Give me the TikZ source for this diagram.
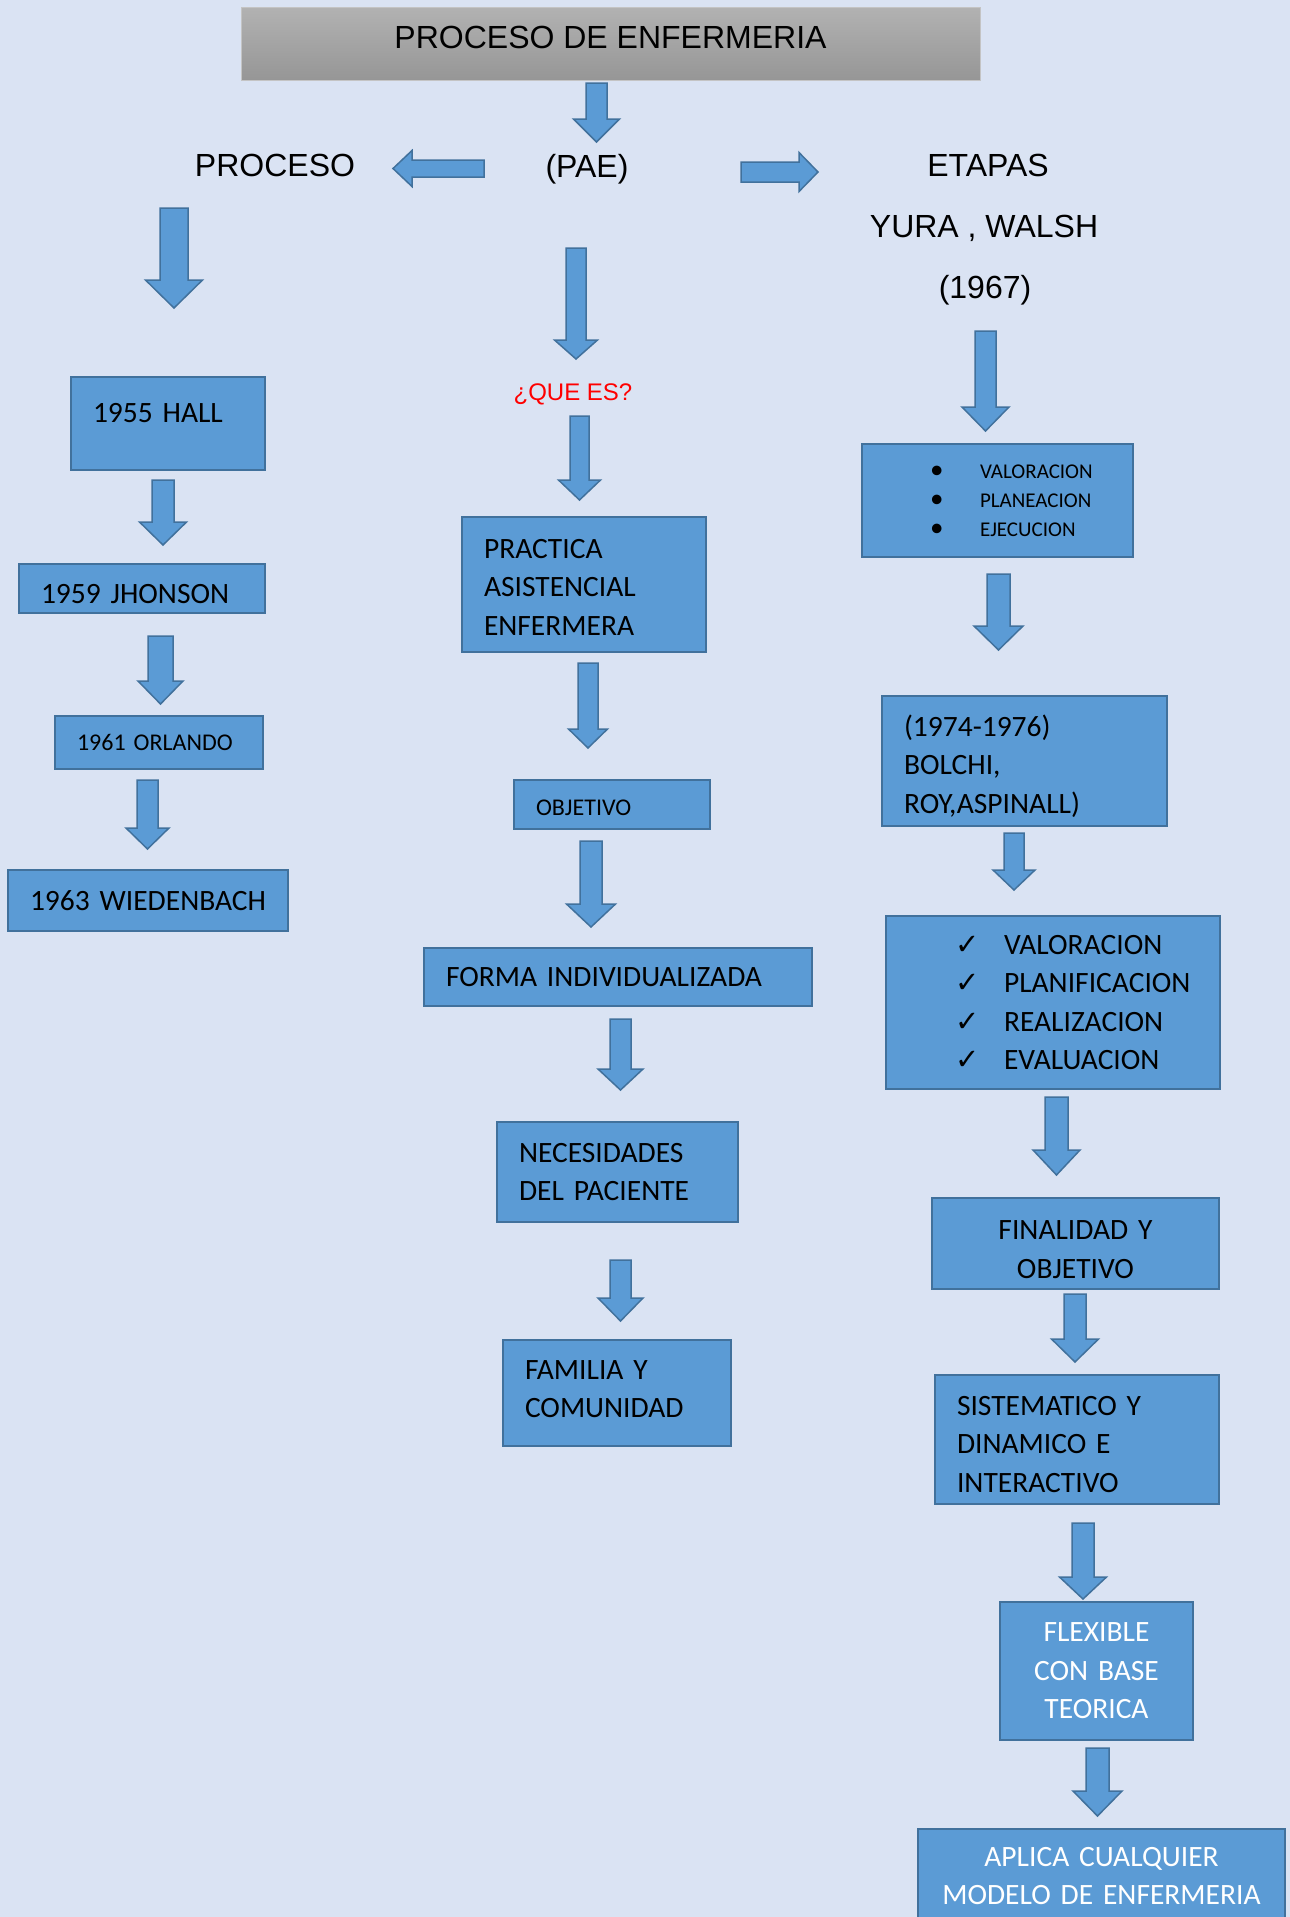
\documentclass[tikz,border=0pt]{standalone}
\usepackage{fontspec}
\setmainfont{Carlito}
\newfontfamily\arialfont{Liberation Sans}
\newfontfamily\symfont{DejaVu Sans}
\usepackage{tikz}

\definecolor{bgblue}{HTML}{DAE3F3}
\definecolor{boxblue}{HTML}{5B9BD5}
\definecolor{boxline}{HTML}{41719C}
\definecolor{titletop}{HTML}{B2B2B2}
\definecolor{titlebot}{HTML}{969696}
\definecolor{titleline}{HTML}{C4C4C4}
\definecolor{quered}{HTML}{FF0000}

% block arrows: x, y top, y head, y tip, half shaft, half head
\newcommand{\vblock}[6]{\draw[blkarrow] (#1-#5,#2) -- (#1+#5,#2) -- (#1+#5,#3) -- (#1+#6,#3) -- (#1,#4) -- (#1-#6,#3) -- (#1-#5,#3) -- cycle;}
% y, x tail, x head, x tip, half shaft, half head
\newcommand{\hblock}[6]{\draw[blkarrow] (#2,#1-#5) -- (#3,#1-#5) -- (#3,#1-#6) -- (#4,#1) -- (#3,#1+#6) -- (#3,#1+#5) -- (#2,#1+#5) -- cycle;}
\newcommand{\chk}{{\symfont\fontsize{29}{29}\selectfont ✓}}
\newcommand{\blt}{{\fontsize{27}{27}\selectfont •}}

\begin{document}
\begin{tikzpicture}[x=1pt, y=-1pt,
    box/.style={draw=boxline, fill=boxblue, line width=2pt,
        inner xsep=22pt, inner ysep=0pt, align=left,
        font=\fontsize{29.5}{38.5}\selectfont},
    smallbox/.style={box, font=\fontsize{24}{30}\selectfont},
    whitebox/.style={box, align=center, text=white},
    blkarrow/.style={draw=boxline, fill=boxblue, line width=1.5pt, line join=miter},
    bigtext/.style={inner sep=0pt, anchor=base,
        font=\arialfont\fontsize{32}{38}\selectfont}]
    \useasboundingbox (0,0) rectangle (1290,1917);
    \fill[bgblue] (0,0) rectangle (1290,1917);

    % Title
    \node [draw=titleline, line width=1pt,
        top color=titletop, bottom color=titlebot,
        minimum width=739pt, minimum height=73pt,
        inner sep=0pt, text depth=13pt,
        font=\arialfont\fontsize{32}{38}\selectfont
    ]  (Title) at (610.5,43.5) {PROCESO DE ENFERMERIA};
    \node [bigtext] (Proceso) at (275,176) {PROCESO};
    \node [bigtext] (Pae) at (587,177) {(PAE)};
    \node [bigtext] (Etapas) at (988,176) {ETAPAS};
    \node [bigtext] (Yura) at (984,237) {YURA , WALSH};
    \node [bigtext] (Anio) at (985,298) {(1967)};
    \vblock{596.5}{83}{119}{142}{10.5}{23}
    \hblock{168.5}{484}{412}{393}{8.5}{18}
    \hblock{172}{741}{799}{818}{10}{19.5}

    % Left column
    \vblock{174}{208}{280}{308}{14}{28.5}
    \node [box,
        minimum width=194pt, minimum height=93pt,
        text width=150pt, text depth=22pt
    ]  (Hall) at (168,423.5) {\mbox{1955 HALL}};
    \vblock{163}{480}{522}{545}{11}{23.5}
    \node [box,
        minimum width=246pt, minimum height=49pt,
        text width=202pt, text height=30pt
    ]  (Jhonson) at (142,588.5) {\mbox{1959 JHONSON}};
    \vblock{160.5}{636}{681}{704}{12.5}{22.5}
    \node [smallbox,
        minimum width=208pt, minimum height=53pt,
        text width=164pt
    ]  (Orlando) at (159,742.5) {\mbox{1961 ORLANDO}};
    \vblock{147.5}{780}{828}{849}{10.5}{21.5}
    \node [box,
        minimum width=280pt, minimum height=61pt,
        text width=236pt
    ]  (Wiedenbach) at (148,900.5) {\mbox{1963 WIEDENBACH}};

    % Middle column
    \vblock{576}{248}{340}{359}{10}{21.5}
    \node [bigtext, text=quered,
        font=\arialfont\fontsize{24}{28}\selectfont
    ]  (QueEs) at (573,400) {¿QUE ES?};
    \vblock{579.5}{416}{480}{500}{9.5}{21}
    \node [box,
        minimum width=244pt, minimum height=135pt,
        text width=200pt, text height=24pt
    ]  (Practica) at (584,584.5) {PRACTICA\\ASISTENCIAL\\ENFERMERA};
    \vblock{588}{663}{729}{748}{10}{19.5}
    \node [smallbox,
        minimum width=196pt, minimum height=49pt,
        text width=152pt, text height=23pt
    ]  (Objetivo) at (612,804.5) {OBJETIVO};
    \vblock{591}{841}{904}{927}{11}{24.5}
    \node [box,
        minimum width=388pt, minimum height=58pt,
        text width=344pt
    ]  (Forma) at (618,977) {\mbox{FORMA INDIVIDUALIZADA}};
    \vblock{620.5}{1019}{1069}{1090}{10.5}{22.5}
    \node [box,
        minimum width=241pt, minimum height=100pt,
        text width=197pt
    ]  (Necesidades) at (617.5,1172) {NECESIDADES\\\mbox{DEL PACIENTE}};
    \vblock{620.5}{1260}{1298}{1321}{10.5}{22.5}
    \node [box,
        minimum width=228pt, minimum height=106pt,
        text width=184pt, text depth=46.5pt
    ]  (Familia) at (617,1393) {\mbox{FAMILIA Y}\\COMUNIDAD};

    % Right column
    \vblock{985.5}{331}{407}{431}{10.5}{23.5}
    \node [box,
        minimum width=271pt, minimum height=113pt,
        text width=227pt,
        font=\fontsize{21}{29}\selectfont
    ]  (Etapas3) at (997.5,500.5) {\hspace*{46pt}\makebox[50pt][l]{\blt}VALORACION\\
        \hspace*{46pt}\makebox[50pt][l]{\blt}PLANEACION\\
        \hspace*{46pt}\makebox[50pt][l]{\blt}EJECUCION};
    \vblock{998.5}{574}{626}{650}{11.5}{24.5}
    \node [box,
        minimum width=285pt, minimum height=130pt,
        text width=241pt, text height=32pt
    ]  (Bolchi) at (1024.5,761) {(1974-1976)\\BOLCHI,\\ROY,ASPINALL)};
    \vblock{1014}{833}{870}{890}{10}{21}
    \node [box,
        minimum width=334pt, minimum height=173pt,
        text width=290pt
    ]  (Etapas4) at (1053,1002.5) {\hspace*{47pt}\makebox[49pt][l]{\chk}VALORACION\\
        \hspace*{47pt}\makebox[49pt][l]{\chk}PLANIFICACION\\
        \hspace*{47pt}\makebox[49pt][l]{\chk}REALIZACION\\
        \hspace*{47pt}\makebox[49pt][l]{\chk}EVALUACION};
    \vblock{1056.5}{1097}{1150}{1175}{11.5}{23.5}
    \node [box, align=center,
        minimum width=287pt, minimum height=91pt,
        text width=243pt, text height=31pt
    ]  (Finalidad) at (1075.5,1243.5) {\mbox{FINALIDAD Y}\\OBJETIVO};
    \vblock{1075}{1294}{1339}{1362}{11}{23.5}
    \node [box,
        minimum width=284pt, minimum height=129pt,
        text width=240pt, text height=29pt
    ]  (Sistematico) at (1077,1439.5) {\mbox{SISTEMATICO Y}\\\mbox{DINAMICO E}\\INTERACTIVO};
    \vblock{1083}{1523}{1577}{1599}{11}{23.5}
    \node [whitebox,
        minimum width=193pt, minimum height=138pt,
        text width=149pt
    ]  (Flexible) at (1096.5,1671) {FLEXIBLE\\\mbox{CON BASE}\\TEORICA};
    \vblock{1097.5}{1748}{1791}{1816}{11.5}{24.5}
    \node [whitebox,
        minimum width=367pt, minimum height=99pt,
        text width=323pt, text depth=43.5pt
    ]  (Aplica) at (1101.5,1878.5) {\mbox{APLICA CUALQUIER}\\\mbox{MODELO DE ENFERMERIA}};
\end{tikzpicture}
\end{document}
